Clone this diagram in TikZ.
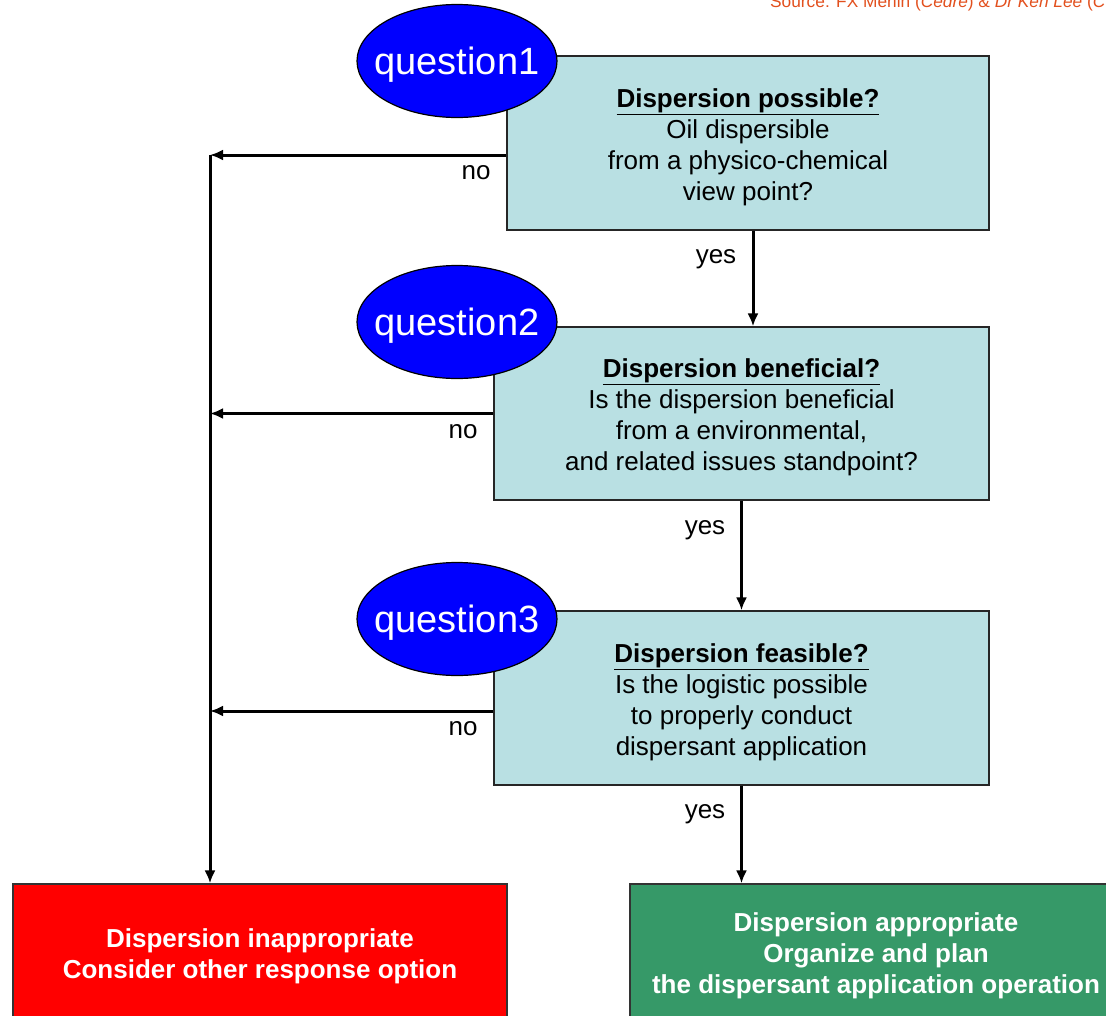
\documentclass[tikz,border=0pt]{standalone}
\usepackage{fontspec}
\setmainfont{Liberation Sans}
\usetikzlibrary{calc,positioning,shapes.geometric,arrows.meta}
\usepackage{xcolor}
\definecolor{boxblue}{RGB}{185,224,227}
\definecolor{okgreen}{RGB}{54,153,104}
\definecolor{srcred}{RGB}{226,80,30}

\begin{document}
\begin{tikzpicture}[x=1pt,y=-1pt,
  qbox/.style={draw=black!85, line width=1.2pt, fill=boxblue, inner sep=0pt},
  boxtxt/.style={inner sep=0pt, align=center, font=\fontsize{26}{31}\selectfont},
  qoval/.style={ellipse, draw=black, line width=1.2pt, fill=blue, inner sep=0pt, minimum width=200pt, minimum height=113pt},
  ovaltxt/.style={inner sep=0pt, text=white, font=\fontsize{38}{40}\selectfont},
  endbox/.style={draw=black!80, line width=1.2pt, inner sep=0pt},
  endtxt/.style={inner sep=0pt, align=center, text=white, font=\bfseries\fontsize{26}{31}\selectfont},
  flow/.style={line width=3pt, -{Latex[length=13pt,width=11pt]}},
  lbl/.style={inner sep=0pt, font=\fontsize{26}{31}\selectfont}]
\useasboundingbox (0,0) rectangle (1106,1015);
\clip (0,0) rectangle (1106,1015);

% Source line (cut off at the top)
\node[anchor=base west, inner sep=0pt, text=srcred, font=\fontsize{17.3}{18}\selectfont] (src) at (770,7) {Source: FX Merlin (\textit{Cedre}) \& \textit{Dr Ken Lee} (\textit{C}};

% Question boxes
\node[qbox, minimum width=482pt, minimum height=174pt] (q1box) at (748,143) {};
\node[qbox, minimum width=495pt, minimum height=173pt] (q2box) at (741.5,413.5) {};
\node[qbox, minimum width=495pt, minimum height=174pt] (q3box) at (741.5,698) {};
\node[boxtxt] (q1txt) at ([yshift=-4pt]q1box.center) {\underline{\textbf{Dispersion possible?}}\\Oil dispersible\\from a physico-chemical\\view point?};
\node[boxtxt] (q2txt) at ([yshift=-4pt]q2box.center) {\underline{\textbf{Dispersion beneficial?}}\\Is the dispersion beneficial\\from a environmental,\\and related issues standpoint?};
\node[boxtxt] (q3txt) at ([yshift=-4pt]q3box.center) {\underline{\textbf{Dispersion feasible?}}\\Is the logistic possible\\to properly conduct\\dispersant application};

% Outcome boxes
\node[endbox, fill=red, minimum width=494pt, minimum height=142pt] (redbox) at (260,955) {};
\node[endbox, fill=okgreen, minimum width=492pt, minimum height=138pt] (greenbox) at (876,953) {};
\node[endtxt] (redtxt) at ([yshift=-1pt]redbox.center) {Dispersion inappropriate\\Consider other response option};
\node[endtxt] (greentxt) at ([yshift=-3pt]greenbox.center) {Dispersion appropriate\\Organize and plan\\the dispersant application operation};

% Question ovals on top of the boxes
\foreach \i/\y in {1/61, 2/322, 3/619} {
    \node[qoval] (q\i) at (457,\y) {};
    \node[ovaltxt] (q\i txt) at ([yshift=-4pt]q\i.center) {question\i};
}

% yes branches
\draw[flow] ([xshift=5pt]q1box.south) -- ([xshift=5pt]q1box.south |- q2box.north);
\draw[flow] (q2box.south) -- (q3box.north);
\draw[flow] (q3box.south) -- (q3box.south |- greenbox.north);
\node[lbl] (yes1) at (716,259) {yes};
\node[lbl] (yes2) at (705,530) {yes};
\node[lbl] (yes3) at (705,814) {yes};

% no branches into the rail
\coordinate (railtop) at (210,155);
\draw[flow] ([yshift=-12pt]q1box.west) -- (railtop);
\draw[flow] (q2box.west) -- (q2box.west -| railtop);
\draw[flow] ([yshift=-13pt]q3box.west) -- ([yshift=-13pt]q3box.west -| railtop);
\draw[flow] (railtop) -- (railtop |- redbox.north);
\node[lbl] (no1) at (476,173) {no};
\node[lbl] (no2) at (463,432) {no};
\node[lbl] (no3) at (463,729) {no};

\end{tikzpicture}
\end{document}
